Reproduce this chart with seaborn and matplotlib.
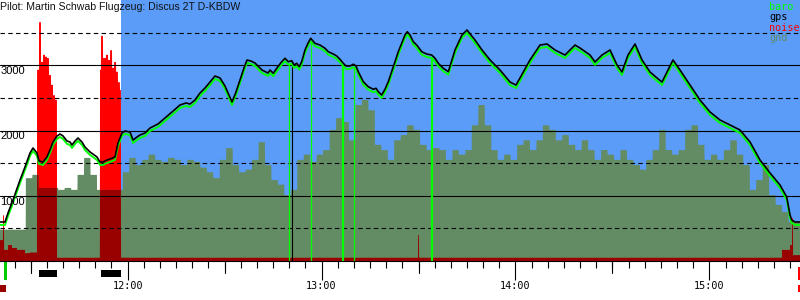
import numpy as np
import matplotlib
matplotlib.use("Agg")
import matplotlib.pyplot as plt
import seaborn as sns
from matplotlib.transforms import blended_transform_factory
from matplotlib.patches import Rectangle

# ---------------- data (time in minutes after 11:00, heights in m) ----------------
title_text = "Pilot: Martin Schwab Flugzeug: Discus 2T D-KBDW"
legend_names = ["baro", "gps", "noise", "gnd"]

track_t = [20.5, 22.05, 22.98, 24.52, 26.69, 28.24, 29.78, 30.71, 31.95, 32.57,
           33.81, 35.04, 35.97, 36.90, 38.14, 39.07, 40.00, 41.23, 42.16, 42.78,
           43.71, 44.64, 45.87, 46.80, 48.35, 50.52, 51.44, 52.37, 53.61, 54.54,
           56.09, 57.01, 58.25, 59.18, 60.73, 61.66, 62.89, 63.82, 65.37, 66.92,
           69.39, 71.56, 73.72, 76.20, 78.06, 79.29, 80.84, 82.39, 83.94, 85.48,
           87.03, 88.58, 90.12, 91.36, 92.29, 93.53, 94.77, 96.00, 96.93, 98.17,
           99.41, 101.57, 103.43,
           104.05, 105.07, 106.12, 107.67, 108.69, 109.71, 110.76, 111.48, 112.31, 113.12,
           113.86, 114.88, 115.90, 116.64, 117.97, 119.52, 121.07, 122.09, 123.64, 124.69,
           125.71, 126.73, 127.57, 128.80, 129.83, 130.66, 131.37, 132.92, 134.47, 136.02,
           136.85, 137.56, 138.61, 139.63, 140.66, 141.71, 142.73, 143.75, 144.80, 145.82,
           146.54, 147.37, 148.39, 149.44, 150.99, 152.54, 154.09, 155.11, 156.13, 157.68,
           159.23,
           161.30, 163.46, 165.01, 167.48, 169.65, 172.13, 175.22, 178.31, 180.17, 181.41,
           184.50, 187.60, 189.76, 192.24, 195.33, 198.43, 199.98, 203.07, 204.62, 206.78,
           209.26, 211.42, 212.97, 214.83, 216.99, 219.16, 221.64, 223.80, 225.35, 226.90,
           228.75, 230.92, 234.01, 237.11, 240.20, 243.30, 246.39, 249.49, 252.58, 255.67,
           258.77, 261.86, 263.94, 264.96, 265.48, 266.52, 268.05]

gps_alt = [598, 598, 736, 935, 1241, 1441, 1655, 1732, 1655, 1533,
           1517, 1594, 1701, 1824, 1916, 1946, 1916, 1839, 1824, 1778,
           1839, 1885, 1824, 1747, 1671, 1594, 1517, 1517, 1548, 1563,
           1594, 1808, 1962, 1992, 1977, 1854, 1900, 1931, 1962, 2038,
           2100, 2192, 2284, 2391, 2422, 2406, 2467, 2575, 2651, 2743,
           2835, 2805, 2682, 2544, 2437, 2590, 2774, 2958, 3080, 3065,
           3034, 2927, 2881,
           2927, 2877, 2953, 3054, 3107, 3054, 3070, 3004, 3030, 2978,
           3054, 3234, 3346, 3413, 3336, 3310, 3260, 3208, 3172, 3142,
           3091, 3030, 2989, 2989, 3015, 2989, 2901, 2748, 2671, 2632,
           2647, 2595, 2544, 2632, 2748, 2901, 3054, 3208, 3336, 3464,
           3514, 3464, 3361, 3310, 3208, 3172, 3157, 3107, 3030, 2953,
           2901,
           3234, 3464, 3540, 3387, 3234, 3081, 2927, 2743, 2697, 2805,
           3081, 3310, 3326, 3234, 3157, 3310, 3264, 3157, 3050, 3157,
           3234, 3004, 2897, 3157, 3326, 3081, 2897, 2805, 2743, 2897,
           3081, 2927, 2697, 2467, 2284, 2161, 2084, 2008, 1824, 1548,
           1349, 1165, 981, 705, 628, 598, 598]

baro_alt = [553, 553, 691, 890, 1196, 1396, 1610, 1687, 1610, 1488,
            1472, 1549, 1656, 1779, 1871, 1901, 1871, 1794, 1779, 1733,
            1794, 1840, 1779, 1702, 1626, 1549, 1472, 1472, 1503, 1518,
            1549, 1763, 1917, 1947, 1932, 1809, 1855, 1886, 1917, 1993,
            2055, 2147, 2239, 2346, 2377, 2361, 2422, 2530, 2606, 2698,
            2790, 2760, 2637, 2499, 2392, 2545, 2729, 2913, 3035, 3020,
            2989, 2882, 2836,
            2882, 2832, 2908, 3009, 3062, 3009, 3025, 2959, 2985, 2933,
            3009, 3189, 3301, 3368, 3291, 3265, 3215, 3163, 3127, 3097,
            3046, 2985, 2944, 2944, 2970, 2944, 2856, 2703, 2626, 2587,
            2602, 2550, 2499, 2587, 2703, 2856, 3009, 3163, 3291, 3419,
            3469, 3419, 3316, 3265, 3163, 3127, 3112, 3062, 2985, 2908,
            2856,
            3189, 3419, 3495, 3342, 3189, 3036, 2882, 2698, 2652, 2760,
            3036, 3265, 3281, 3189, 3112, 3265, 3219, 3112, 3005, 3112,
            3189, 2959, 2852, 3112, 3281, 3036, 2852, 2760, 2698, 2852,
            3036, 2882, 2652, 2422, 2239, 2116, 2039, 1963, 1779, 1503,
            1304, 1120, 936, 660, 583, 553, 553]

# ground height, one value per 2-minute interval starting 11:20.5
gnd_start = 20.5
gnd_step = 2.0
gnd_alt = [480, 480, 480, 480, 1270, 1320, 1120, 1120, 1120, 1090,
           1120, 1090, 1320, 1580, 1320, 1090, 1090, 1090, 1090, 1360,
           1580, 1470, 1550, 1630, 1550, 1520, 1580, 1550, 1470, 1550,
           1520, 1430, 1360, 1270, 1550, 1730, 1470, 1360, 1400, 1550,
           1820, 1470, 1240, 1170, 1010, 1090, 1550, 1630, 1520, 1630,
           1700, 2010, 2190, 2130, 1850, 2390, 2470, 2310, 1780, 1700,
           1550, 1850, 1930, 2080, 2010, 1780, 1700, 1730, 1700, 1550,
           1700, 1630, 1700, 2080, 2390, 2080, 1700, 1550, 1630, 1550,
           1780, 1850, 1700, 1850, 2080, 2010, 1850, 1930, 1780, 1700,
           1850, 1700, 1550, 1700, 1630, 1550, 1700, 1550, 1470, 1400,
           1550, 1700, 2010, 1700, 1630, 1700, 2010, 2080, 1780, 1550,
           1630, 1550, 1700, 1850, 1630, 1470, 1090, 1240, 1470, 1010,
           860, 750, 600, 600]

# engine noise level (step series: value holds from each time to the next)
noise_t = [20.5, 21.43, 21.74, 22.98, 24.21, 25.76, 28.24, 29.78, 31.95, 32.57,
           33.19, 33.81, 34.42, 35.04, 35.66, 36.28, 36.90, 37.52, 38.14, 51.44,
           51.75, 52.37, 53.30, 53.92, 54.54, 55.16, 55.78, 56.40, 57.01, 57.63,
           57.94, 149.85, 150.16, 262.48, 264.96, 265.58, 265.89]
noise_v = [320, 700, 170, 245, 200, 170, 120, 130, 2930, 3660,
           3050, 3160, 3130, 3110, 2850, 2700, 2540, 2470, 50, 2930,
           3450, 3110, 3160, 3080, 3230, 2960, 3050, 2900, 2740, 2620,
           50, 400, 50, 170, 245, 660, 90]

engine_runs = [(32.57, 38.04), (51.75, 57.94)]
glide_start = 57.94            # blue background from here on
takeoff_t = (21.74, 22.67)
landing_t = (267.43, 268.05)
mark_black = [110.86]
mark_green_thin = [110.08, 116.74, 130.13]
mark_green_thick = [126.55, 154.18]

hour_ticks = [60, 120, 180, 240]
hour_labels = ["12:00", "13:00", "14:00", "15:00"]
half_ticks = [30, 90, 150, 210]
alt_solid = [1000, 2000, 3000]
alt_dashed = [500, 1500, 2500, 3500]

T0, T1 = 20.5, 268.05

# ---------------- style ----------------
BLUE = "#5a9cf8"
GND = "#648c64"
RED = "#ff0000"
DARKRED = "#990000"
LIME = "#00ff00"

sns.set_style("white")
plt.rcParams["font.family"] = ["Liberation Sans", "DejaVu Sans"]

fig = plt.figure(figsize=(8, 3), dpi=100)
fig.patch.set_facecolor("white")
ax = fig.add_axes([0, 39 / 300, 1, 261 / 300])
ax.set_xlim(T0, T1)
ax.set_ylim(0, 4000)
ax.set_facecolor("white")

ax.axvspan(glide_start, T1, color=BLUE, lw=0, zorder=0)

tt = np.linspace(T0, T1, 6001)
nt = np.asarray(noise_t)
nv = np.asarray(noise_v, dtype=float)
noise_f = nv[np.clip(np.searchsorted(nt, tt, side="right") - 1, 0, len(nv) - 1)]
gv = np.asarray(gnd_alt, dtype=float)
gi = np.clip(((tt - gnd_start) // gnd_step).astype(int), 0, len(gv) - 1)
gnd_f = gv[gi]

ax.fill_between(tt, 0, noise_f, color=RED, lw=0, zorder=1)
ax.fill_between(tt, 0, gnd_f, color=GND, lw=0, zorder=2)
ax.fill_between(tt, 0, np.minimum(noise_f, gnd_f), color=DARKRED, lw=0, zorder=3)

for v in alt_solid:
    ax.axhline(v, color="black", lw=0.8, zorder=4)
for v in alt_dashed:
    ax.axhline(v, color="black", lw=0.8, ls=(0, (4, 3)), zorder=4)

ylab_tr = blended_transform_factory(ax.transAxes, ax.transData)
for v in alt_solid:
    ax.text(0.0005, v - 15, str(v), transform=ylab_tr, ha="left", va="top",
            fontsize=8, color="black", zorder=9)

# event markers
for t in mark_black:
    ax.vlines(t, 0, np.interp(t, track_t, gps_alt), color="black", lw=0.8, zorder=5)
for t in mark_green_thin:
    ax.vlines(t, 0, np.interp(t, track_t, baro_alt), color=LIME, lw=0.9, zorder=5)
for t in mark_green_thick:
    ax.vlines(t, 0, np.interp(t, track_t, baro_alt), color=LIME, lw=1.6, zorder=5)

sns.lineplot(x=track_t, y=baro_alt, ax=ax, color=LIME, lw=1.4, zorder=6,
             estimator=None, sort=False)
sns.lineplot(x=track_t, y=gps_alt, ax=ax, color="black", lw=1.2, zorder=7,
             estimator=None, sort=False)

# axes / ticks
for s in ["top", "left", "right"]:
    ax.spines[s].set_visible(False)
ax.spines["bottom"].set_color("black")
ax.spines["bottom"].set_linewidth(0.8)
ax.spines["bottom"].set_zorder(8)
ax.set_yticks([])
ax.set_xticks(hour_ticks)
ax.set_xticklabels(hour_labels, fontfamily="DejaVu Sans Mono", fontsize=7.3)
ax.set_xticks(np.arange(25, 268, 5), minor=True)
ax.tick_params(axis="x", which="major", direction="out", length=13.7, width=0.8,
               pad=1.0, colors="black", bottom=True)
ax.tick_params(axis="x", which="minor", direction="out", length=5.0, width=0.8,
               colors="black", bottom=True)
ax.set_xlabel("")
ax.set_ylabel("")

btr = blended_transform_factory(ax.transData, ax.transAxes)
for t in half_ticks:
    ax.plot([t, t], [0, -12 / 261], transform=btr, color="black", lw=0.8,
            clip_on=False, zorder=8)

def frac(ypx):
    return (261 - ypx) / 261

ax.add_patch(Rectangle((takeoff_t[0], frac(280)), takeoff_t[1] - takeoff_t[0],
                       frac(262) - frac(280), transform=btr, color="#00cc00",
                       clip_on=False, lw=0))
for a, b in engine_runs:
    ax.add_patch(Rectangle((a, frac(276.7)), b - a, frac(270) - frac(276.7),
                           transform=btr, color="black", clip_on=False, lw=0))
ax.add_patch(Rectangle((T0, frac(292)), 1.85, frac(285) - frac(292),
                       transform=btr, color=DARKRED, clip_on=False, lw=0))
ax.add_patch(Rectangle((landing_t[0], frac(280)), landing_t[1] - landing_t[0],
                       frac(267) - frac(280), transform=btr, color=RED,
                       clip_on=False, lw=0))
ax.add_patch(Rectangle((landing_t[0], frac(292)), landing_t[1] - landing_t[0],
                       frac(285) - frac(292), transform=btr, color=RED,
                       clip_on=False, lw=0))

# title and legend
fig.text(0.0005, 1 - 1.5 / 300, title_text, ha="left", va="top", fontsize=7.6,
         color="#111111")
leg_colors = [LIME, "black", RED, GND]
for i, (name, c) in enumerate(zip(legend_names, leg_colors)):
    fig.text(769 / 800, 1 - (7 + 10.3 * i) / 300, name, ha="left", va="center",
             fontsize=7.3, fontfamily="DejaVu Sans Mono", color=c)

fig.savefig("out.png", dpi=100)
